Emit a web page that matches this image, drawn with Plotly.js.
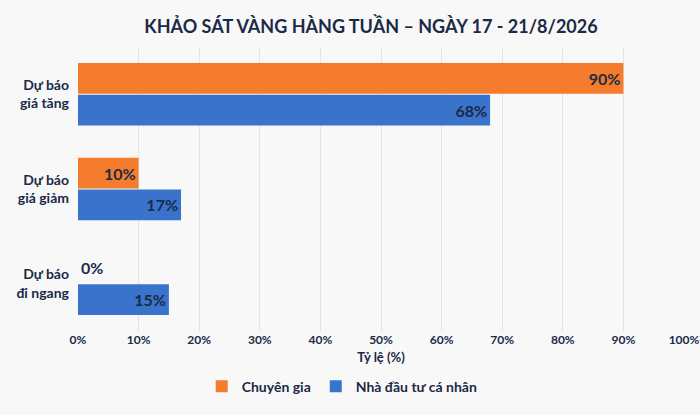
<!DOCTYPE html>
<html>
<head>
<meta charset="utf-8">
<script src="https://cdn.plot.ly/plotly-3.0.1.min.js"></script>
<style>
  html, body { margin: 0; padding: 0; background: #f8f8f8; }
  #chart { width: 700px; height: 415px; }
</style>
</head>
<body>
<div id="chart"></div>
<script>
var categories = ['Dự báo<br>giá tăng', 'Dự báo<br>giá giảm', 'Dự báo<br>đi ngang'];
var expertValues = [90, 10, 0];
var investorValues = [68, 17, 15];
var seriesNames = ['Chuyên gia', 'Nhà đầu tư cá nhân'];
var tickValues = [0, 10, 20, 30, 40, 50, 60, 70, 80, 90, 100];

var navy = '#1b2a47';
var fam = 'Lato, "Open Sans", sans-serif';

function pct(v) { return v + '%'; }

var data = [
  {
    type: 'bar',
    orientation: 'h',
    name: seriesNames[0],
    y: categories,
    x: expertValues,
    text: expertValues.map(pct),
    textposition: expertValues.map(function (v) { return v > 0 ? 'inside' : 'outside'; }),
    insidetextanchor: 'end',
    textfont: { family: fam, size: 16, color: navy, weight: 'bold' },
    cliponaxis: false,
    marker: { color: '#f47c2c' },
    hoverinfo: 'skip'
  },
  {
    type: 'bar',
    orientation: 'h',
    name: seriesNames[1],
    y: categories,
    x: investorValues,
    text: investorValues.map(pct),
    textposition: 'inside',
    insidetextanchor: 'end',
    textfont: { family: fam, size: 16, color: navy, weight: 'bold' },
    marker: { color: '#3a73cb' },
    hoverinfo: 'skip'
  }
];

var layout = {
  width: 700,
  height: 415,
  paper_bgcolor: '#f8f8f8',
  plot_bgcolor: '#f8f8f8',
  font: { family: fam, size: 13, color: navy, weight: 'bold' },
  barmode: 'group',
  bargap: 0.33,
  bargroupgap: 0.03,
  margin: { l: 78, r: 16, t: 47, b: 84, autoexpand: false },
  title: {
    text: 'KHẢO SÁT VÀNG HÀNG TUẦN – NGÀY 17 - 21/8/2026',
    x: 0.53,
    xanchor: 'center',
    y: 0.95,
    font: { family: fam, size: 18, color: navy, weight: 'bold' }
  },
  xaxis: {
    range: [0, 100],
    automargin: false,
    tickvals: tickValues,
    ticktext: tickValues.map(pct),
    showgrid: true,
    gridcolor: '#e4e4e4',
    zeroline: false,
    showline: false,
    ticks: '',
    ticklabelstandoff: 0,
    ticklabeloverflow: 'allow',
    tickfont: { family: fam, size: 12, color: navy, weight: 'bold' },
    title: {
      text: 'Tỷ lệ (%)',
      standoff: 6,
      font: { family: fam, size: 13, color: navy, weight: 'bold' }
    }
  },
  yaxis: {
    autorange: 'reversed',
    automargin: false,
    showgrid: false,
    zeroline: false,
    showline: false,
    ticks: '',
    ticklabelstandoff: 8,
    tickfont: { family: fam, size: 14, color: navy, weight: 'bold' }
  },
  legend: {
    orientation: 'h',
    x: 0.436,
    xanchor: 'center',
    y: -0.14,
    yanchor: 'top',
    traceorder: 'normal',
    font: { family: fam, size: 14, color: navy, weight: 'bold' },
    itemwidth: 30
  },
  showlegend: true
};

Plotly.newPlot('chart', data, layout, { displayModeBar: false, staticPlot: true });
</script>
</body>
</html>
